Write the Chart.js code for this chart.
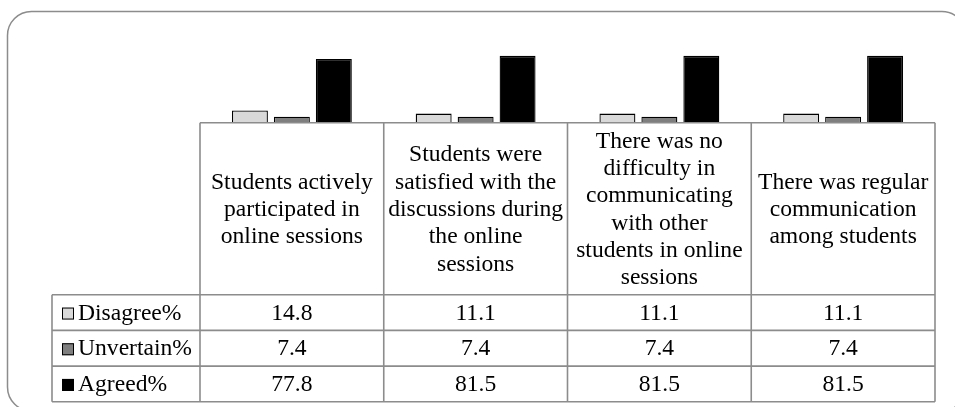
<!DOCTYPE html>
<html>
<head>
<meta charset="utf-8">
<script src="https://cdn.jsdelivr.net/npm/chart.js@4/dist/chart.umd.min.js"></script>
<style>
  html, body { margin: 0; padding: 0; background: #fff; }
  #wrap { width: 955px; height: 407px; position: relative; }
</style>
</head>
<body>
<div id="wrap"><canvas id="chart" width="955" height="407"></canvas></div>
<script>
// Survey statements (header cells of the data table, one line per entry)
const categories = [
  ['Students actively', 'participated in', 'online sessions'],
  ['Students were', 'satisfied with the', 'discussions during', 'the online', 'sessions'],
  ['There was no', 'difficulty in', 'communicating', 'with other', 'students in online', 'sessions'],
  ['There was regular', 'communication', 'among students']
];

const seriesNames = ['Disagree%', 'Unvertain%', 'Agreed%'];
const disagree = [14.8, 11.1, 11.1, 11.1];
const uncertain = [7.4, 7.4, 7.4, 7.4];
const agreed = [77.8, 81.5, 81.5, 81.5];
const seriesColors = ['#d9d9d9', '#7f7f7f', '#000000'];

const FONT = "'Liberation Serif', 'Times New Roman', serif";
const GRID = '#8c8c8c';

// Rounded frame around the whole chart
const framePlugin = {
  id: 'frame',
  beforeDraw(chart) {
    const ctx = chart.ctx;
    const x0 = 7.5, y0 = 11.5, x1 = 966, y1 = 411, r = 24;
    ctx.save();
    ctx.fillStyle = '#fff';
    ctx.fillRect(0, 0, chart.width, chart.height);
    ctx.strokeStyle = GRID;
    ctx.lineWidth = 1.5;
    ctx.beginPath();
    ctx.moveTo(x0 + r, y0);
    ctx.lineTo(x1 - r, y0);
    ctx.arcTo(x1, y0, x1, y0 + r, r);
    ctx.lineTo(x1, y1 - r);
    ctx.arcTo(x1, y1, x1 - r, y1, r);
    ctx.lineTo(x0 + r, y1);
    ctx.arcTo(x0, y1, x0, y1 - r, r);
    ctx.lineTo(x0, y0 + r);
    ctx.arcTo(x0, y0, x0 + r, y0, r);
    ctx.closePath();
    ctx.stroke();
    ctx.restore();
  }
};

// Data table drawn under the plot, aligned with the category scale
const tablePlugin = {
  id: 'dataTable',
  afterDraw(chart) {
    const ctx = chart.ctx;
    const xs = chart.scales.x;
    const n = categories.length;
    const colW = xs.getPixelForValue(1) - xs.getPixelForValue(0);
    const left = xs.getPixelForValue(0) - colW / 2;
    const right = left + colW * n;
    const top = chart.chartArea.bottom;
    const headerH = 172;
    const rowH = 35.7;
    const legendLeft = 52;
    const headerBottom = top + headerH;
    const bottom = headerBottom + rowH * seriesNames.length;
    const datasets = chart.data.datasets;

    ctx.save();
    ctx.strokeStyle = GRID;
    ctx.lineWidth = 1.6;
    ctx.beginPath();
    // header top line
    ctx.moveTo(left, top); ctx.lineTo(right, top);
    // row lines
    for (let r = 0; r <= seriesNames.length; r++) {
      const y = headerBottom + r * rowH;
      ctx.moveTo(legendLeft, y); ctx.lineTo(right, y);
    }
    // column lines
    for (let c = 0; c <= n; c++) {
      const x = left + c * colW;
      ctx.moveTo(x, top); ctx.lineTo(x, bottom);
    }
    ctx.moveTo(legendLeft, headerBottom); ctx.lineTo(legendLeft, bottom);
    ctx.stroke();

    ctx.fillStyle = '#000';
    ctx.font = '23.6px ' + FONT;
    ctx.textAlign = 'center';
    ctx.textBaseline = 'middle';

    // header cells
    const lh = 27.3;
    categories.forEach((lines, c) => {
      const cx = xs.getPixelForValue(c);
      const cy = top + headerH / 2 + 1;
      const startY = cy - (lines.length - 1) * lh / 2;
      lines.forEach((t, i) => ctx.fillText(t, cx, startY + i * lh));
    });

    // value rows with legend keys
    datasets.forEach((ds, r) => {
      const cy = headerBottom + r * rowH + rowH / 2 + 1;
      ds.data.forEach((v, c) => {
        ctx.textAlign = 'center';
        ctx.fillText(v.toFixed(1), xs.getPixelForValue(c), cy);
      });
      // legend key
      ctx.fillStyle = ds.backgroundColor;
      ctx.fillRect(62, cy - 6, 12, 12);
      ctx.strokeStyle = '#000';
      ctx.lineWidth = 1;
      ctx.strokeRect(62.5, cy - 5.5, 11, 11);
      ctx.fillStyle = '#000';
      ctx.textAlign = 'left';
      ctx.fillText(ds.label, 78, cy);
    });
    ctx.restore();
  }
};

const values = [disagree, uncertain, agreed];

new Chart(document.getElementById('chart'), {
  type: 'bar',
  data: {
    labels: categories.map(l => l.join(' ')),
    datasets: seriesNames.map((name, i) => ({
      label: name,
      data: values[i],
      backgroundColor: seriesColors[i],
      borderColor: '#000',
      borderWidth: 1.3,
      categoryPercentage: 0.685,
      barPercentage: 0.857
    }))
  },
  options: {
    responsive: false,
    animation: false,
    devicePixelRatio: 1,
    layout: { padding: { left: 200, right: 20, top: 40.7, bottom: 284.3 } },
    plugins: { legend: { display: false }, tooltip: { enabled: false } },
    scales: {
      x: { display: false },
      y: { display: false, min: 0, max: 100 }
    }
  },
  plugins: [framePlugin, tablePlugin]
});
</script>
</body>
</html>
